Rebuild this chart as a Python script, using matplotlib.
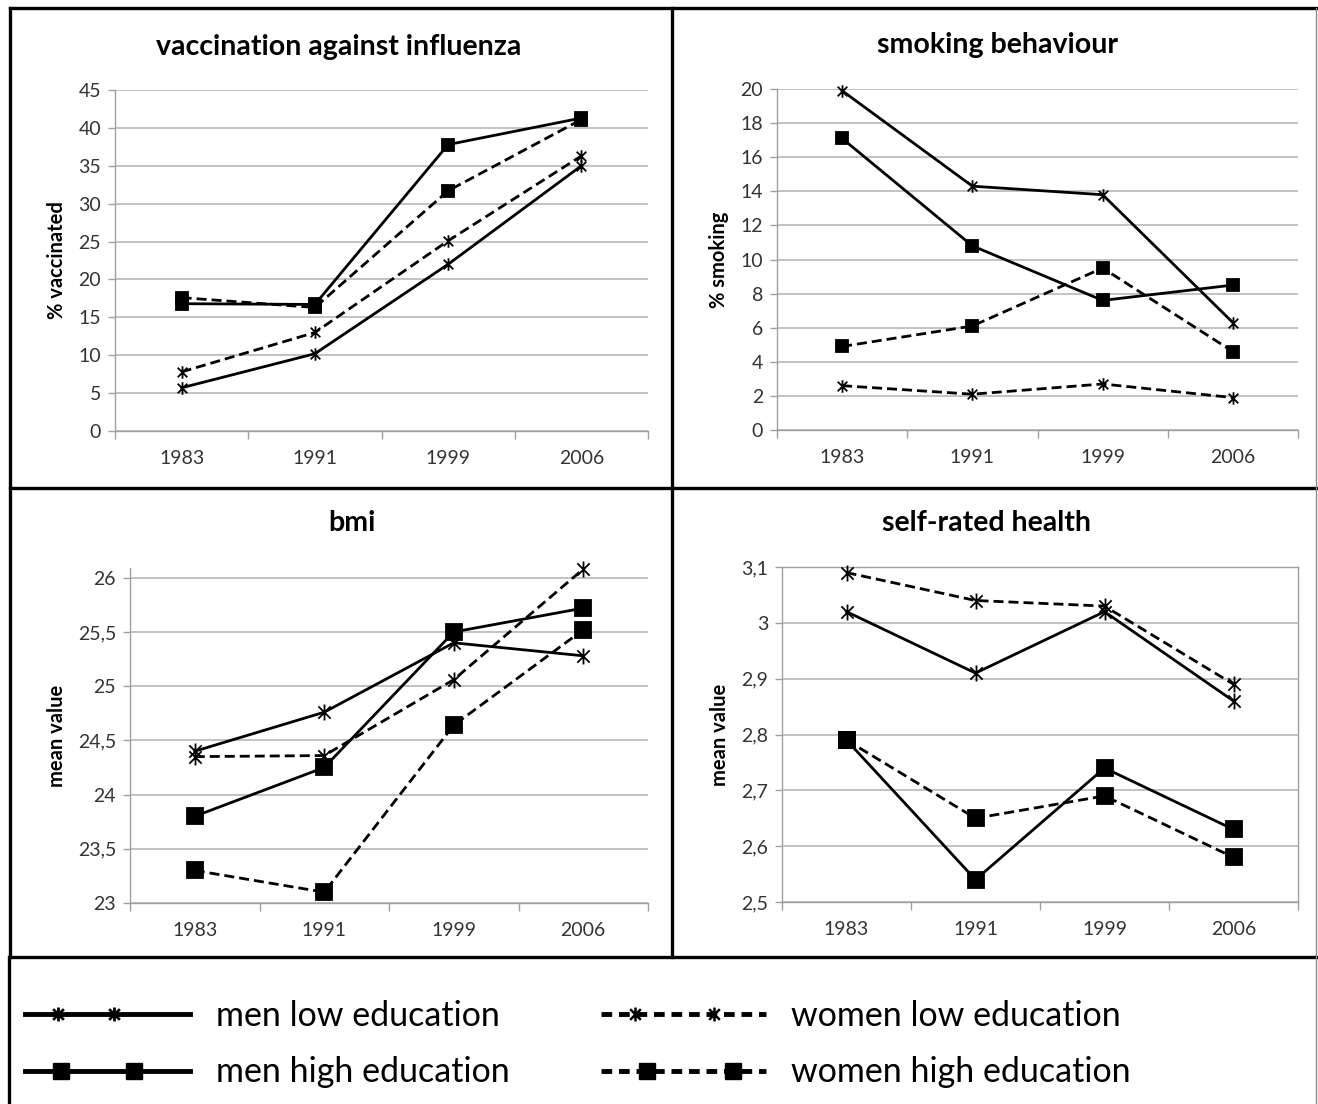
import numpy as np
import matplotlib.pyplot as plt
from matplotlib.path import Path
from matplotlib.lines import Line2D
from matplotlib.legend_handler import HandlerLine2DCompound

plt.rcParams['font.family'] = ['Lato', 'DejaVu Sans']

years = ['1983', '1991', '1999', '2006']

# vaccination against influenza (% vaccinated)
vacc_men_low = [5.7, 10.2, 22.0, 35.0]
vacc_women_low = [7.8, 13.0, 25.1, 36.3]
vacc_men_high = [16.8, 16.7, 37.8, 41.3]
vacc_women_high = [17.6, 16.3, 31.7, 41.1]

# smoking behaviour (% smoking)
smok_men_low = [19.9, 14.3, 13.8, 6.3]
smok_women_low = [2.6, 2.1, 2.7, 1.9]
smok_men_high = [17.1, 10.8, 7.6, 8.5]
smok_women_high = [4.9, 6.1, 9.5, 4.6]

# bmi (mean value)
bmi_men_low = [24.40, 24.76, 25.40, 25.28]
bmi_women_low = [24.35, 24.36, 25.06, 26.08]
bmi_men_high = [23.80, 24.25, 25.50, 25.72]
bmi_women_high = [23.30, 23.10, 24.64, 25.52]

# self-rated health (mean value)
srh_men_low = [3.02, 2.91, 3.02, 2.86]
srh_women_low = [3.09, 3.04, 3.03, 2.89]
srh_men_high = [2.79, 2.54, 2.74, 2.63]
srh_women_high = [2.79, 2.65, 2.69, 2.58]

labels = ['men low education', 'men high education',
          'women low education', 'women high education']

# Excel style star marker: an x with a vertical bar
star = Path([(-1, -1), (1, 1), (-1, 1), (1, -1), (0, -1.3), (0, 1.3)],
            [Path.MOVETO, Path.LINETO, Path.MOVETO, Path.LINETO, Path.MOVETO, Path.LINETO])

W, H = 1318, 1104
fig = plt.figure(figsize=(W / 100, H / 100), dpi=100)


def px_axes(left, right, bottom, top):
    return fig.add_axes([left / W, 1 - bottom / H, (right - left) / W, (bottom - top) / H])


def panel(ax, series, ylabel, ylim, yticks, fmt, big, box=False):
    x = np.arange(len(years))
    msq = 11.5 if big else 8
    mst = 11.5 if big else 9
    styles = [('-', star, mst), ('-', 's', msq), ('--', star, mst), ('--', 's', msq)]
    for vals, (ls, mk, ms) in zip(series, styles):
        ax.plot(x, vals, color='black', lw=2.0, ls=ls, dashes=(3.6, 1.8) if ls == '--' else (None, None),
                marker=mk, ms=ms, mew=1.3, mfc='black', mec='black', clip_on=False, zorder=3)
    ax.set_xlim(-0.5, len(years) - 0.5)
    ax.set_ylim(*ylim)
    ax.set_yticks(yticks)
    ax.set_yticklabels([fmt(v) for v in yticks])
    ax.set_xticks(x)
    ax.set_xticklabels(years)
    ax.set_xticks(np.arange(-0.5, len(years)), minor=True)
    ax.tick_params(axis='x', which='major', length=0, pad=14, labelsize=14, labelcolor='#333333')
    ax.tick_params(axis='x', which='minor', length=6, width=1, color='#a0a0a0')
    ax.tick_params(axis='y', length=5, width=1, color='#a0a0a0', pad=5, labelsize=14, labelcolor='#333333')
    ax.grid(axis='y', color='#bdbdbd', lw=1.3)
    ax.set_axisbelow(True)
    for s in ['left', 'bottom']:
        ax.spines[s].set_color('#a0a0a0')
        ax.spines[s].set_linewidth(1)
    for s in ['top', 'right']:
        ax.spines[s].set_visible(box)
        ax.spines[s].set_color('#a0a0a0')
        ax.spines[s].set_linewidth(1)
    ax.set_ylabel(ylabel, fontsize=14.5, fontweight='bold', labelpad=8)


ax1 = px_axes(115, 648, 431, 90)
panel(ax1, [vacc_men_low, vacc_men_high, vacc_women_low, vacc_women_high],
      '% vaccinated', (0, 45), np.arange(0, 46, 5), lambda v: f'{v:g}', False)

ax2 = px_axes(777, 1298, 430, 89)
panel(ax2, [smok_men_low, smok_men_high, smok_women_low, smok_women_high],
      '% smoking', (0, 20), np.arange(0, 21, 2), lambda v: f'{v:g}', False)

ax3 = px_axes(130, 648, 903, 568)
panel(ax3, [bmi_men_low, bmi_men_high, bmi_women_low, bmi_women_high],
      'mean value', (23, 26.09), np.arange(23, 26.01, 0.5),
      lambda v: f'{v:g}'.replace('.', ','), True)

ax4 = px_axes(782, 1298, 902, 567)
panel(ax4, [srh_men_low, srh_men_high, srh_women_low, srh_women_high],
      'mean value', (2.5, 3.1), np.round(np.arange(2.5, 3.11, 0.1), 1),
      lambda v: f'{v:g}'.replace('.', ','), True, box=True)

# panel titles
titles = ['vaccination against influenza', 'smoking behaviour', 'bmi', 'self-rated health']
for txt, cx, cy in zip(titles, [339, 997, 352, 987], [47, 45, 523, 523]):
    fig.text(cx / W, 1 - cy / H, txt, ha='center', va='center',
             fontsize=20.5, fontweight='bold')

# panel frames
lw_frame = 2.4
frame_lines = [
    ((10, 10), (8, 957)), ((10, 1317), (8, 8)), ((672, 672), (8, 957)),
    ((10, 1317), (488, 488)), ((10, 1317), (957, 957)), ((9, 9), (957, 1104)),
]
for xs, ys in frame_lines:
    fig.add_artist(Line2D([xs[0] / W, xs[1] / W], [1 - ys[0] / H, 1 - ys[1] / H],
                          transform=fig.transFigure, color='black', lw=lw_frame))
fig.add_artist(Line2D([1316 / W, 1316 / W], [1 - 8 / H, 0], transform=fig.transFigure,
                      color='#888888', lw=1))


class LeftMarkers(HandlerLine2DCompound):
    def __init__(self, pos, **kw):
        super().__init__(**kw)
        self.pos = np.asarray(pos)

    def get_xdata(self, legend, xdescent, ydescent, width, height, fontsize):
        return (np.array([-xdescent, -xdescent + width]),
                -xdescent + width * self.pos)


handles = [
    Line2D([], [], color='black', lw=3.5, marker=star, ms=10, mew=2),
    Line2D([], [], color='black', lw=3.5, marker='s', ms=12),
    Line2D([], [], color='black', lw=3.5, ls='--', dashes=(2.2, 1.4), marker=star, ms=10, mew=1.8),
    Line2D([], [], color='black', lw=3.5, ls='--', dashes=(2.2, 1.4), marker='s', ms=11),
]
hmap = {handles[0]: LeftMarkers([0.2, 0.54]), handles[1]: LeftMarkers([0.22, 0.66]),
        handles[2]: LeftMarkers([0.21, 0.69]), handles[3]: LeftMarkers([0.28, 0.8])}
fig.legend(handles, labels, ncol=2, loc='upper left', bbox_to_anchor=(25 / W, 1 - 1000 / H),
           frameon=False, fontsize=24.5, handlelength=4.85, handletextpad=0.75,
           columnspacing=2.68, labelspacing=0.72, borderpad=0, borderaxespad=0,
           handler_map=hmap)

fig.savefig('out.png', dpi=100)
